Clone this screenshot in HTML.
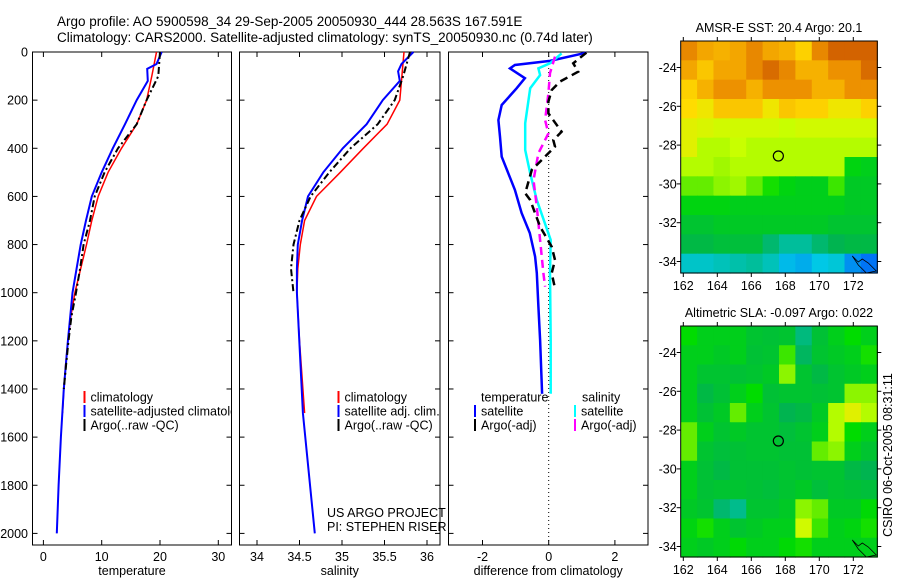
<!DOCTYPE html>
<html><head><meta charset="utf-8"><style>
html,body{margin:0;padding:0;background:#fff;}
svg{display:block;font-family:"Liberation Sans",sans-serif;}
text{font-size:12.5px;fill:#000;}
</style></head><body>
<svg id="c" width="900" height="580" viewBox="0 0 900 580" xmlns="http://www.w3.org/2000/svg">
<text x="57" y="26" style="font-size:13.5px">Argo profile: AO 5900598_34 29-Sep-2005 20050930_444 28.563S 167.591E</text>
<text x="57" y="42" style="font-size:13.5px">Climatology: CARS2000. Satellite-adjusted climatology: synTS_20050930.nc (0.74d later)</text>
<text x="892" y="455" transform="rotate(-90 892 455)" text-anchor="middle">CSIRO 06-Oct-2005 08:31:11</text>
<g id="g"></g>
</svg>
<script>
// ---------- data ----------
const depthTicks=[0,200,400,600,800,1000,1200,1400,1600,1800,2000];
const tempTicks=[0,10,20,30];
const salTicks=[34,34.5,35,35.5,36];
const diffTicks=[-2,0,2];
const tClimDepth=[0,100,200,300,400,500,600,700,800,900,1000,1100,1200,1300,1400,1500];
const tClim=[19.4,18.6,17.7,16,13.4,11.1,9.4,8.3,7.4,6.4,5.4,4.7,4.2,3.8,3.5,3.3];
const tSatDepth=[0,50,70,120,200,300,400,500,600,700,800,900,1000,1200,1400,1600,1800,2000];
const tSat=[20.3,19.4,17.8,17.9,16,14,11.9,10,8.3,7.3,6.4,5.7,5,4.2,3.5,3.0,2.6,2.3];
const tArgoDepth=[0,100,200,300,400,500,600,700,800,900,1000,1100,1200,1300,1400];
const tArgo=[20,19.7,17.7,16,12.8,10.5,8.8,8,6.9,6.3,5.6,4.8,4.3,3.9,3.5];
const sClimDepth=[0,200,300,400,500,600,700,800,900,1000,1200,1400,1500];
const sClim=[35.73,35.68,35.53,35.25,34.98,34.70,34.56,34.51,34.48,34.47,34.5,34.54,34.56];
const sSatDepth=[0,50,80,120,200,300,400,500,600,700,800,900,1000,1500,2000];
const sSat=[35.84,35.70,35.66,35.68,35.48,35.29,35.01,34.78,34.6,34.53,34.48,34.47,34.47,34.54,34.68];
const sArgoDepth=[0,100,200,300,400,500,600,700,800,900,1000];
const sArgo=[35.8,35.72,35.62,35.42,35.10,34.85,34.63,34.5,34.43,34.40,34.43];
const dTSatDepth=[3,37,54,68,109,151,220,283,352,435,504,573,669,752,850,918,1058,1196,1420];
const dTSat=[1.14,0.04,-1.02,-1.17,-0.72,-0.97,-1.42,-1.52,-1.47,-1.42,-1.22,-1.02,-0.82,-0.57,-0.41,-0.36,-0.31,-0.26,-0.2];
const dSSatDepth=[6,47,68,96,151,296,407,504,615,781,919,1196,1420];
const dSSat=[0.39,0.04,-0.31,-0.26,-0.56,-0.71,-0.71,-0.56,-0.36,0.06,0.04,0.06,0.06];
const dSArgoDepth=[19,88,172,283,338,421,532,643,781,919,975];
const dSArgo=[0.19,0.04,-0.01,-0.11,-0.01,-0.31,-0.46,-0.36,-0.26,-0.16,-0.11];
const dTArgoDepth=[3,47,82,123,158,206,255,331,366,393,421,490,587,615,726,809,864,919,982];
const dTArgo=[1.14,0.74,0.89,0.34,0.09,-0.01,-0.01,0.39,0.14,0.19,-0.01,-0.51,-0.71,-0.56,-0.26,0.09,0.19,0.09,0.19];
const lonTicks=[162,164,166,168,170,172];
const latTicks=[-24,-26,-28,-30,-32,-34];
const sstGrid=[
[8.8,8.2,8,8.2,8.8,8.2,8,7.4,8.8,9.6,9.6,9.6],
[8.2,7.6,8.2,8.2,8.8,9.4,8.8,8,8,8.6,8.6,9.4],
[7.4,8,8.6,8.6,8,8.6,8.6,8.6,8,8,8.6,8.6],
[7.2,7,7.6,7.6,7.6,7,7.6,7.4,7.4,7,7,7.4],
[6.8,6.7,6.6,6.6,6.6,6.6,6.5,6.6,6.6,6.6,6.6,6.6],
[6.8,6.4,6.4,6.5,6.4,6.4,6.4,6.4,6.4,6.4,6.4,6.4],
[6.4,6.4,6.3,6.4,6.4,6.4,6.4,6.4,6.4,6.4,5.2,5.0],
[6,6,6.2,6.3,6,5.6,5.2,5,5,5.8,4.8,4.8],
[5.2,5.2,5.2,5,5,5,5,5,5,5,4.8,4.8],
[4.6,4.6,4.8,4.8,4.8,4.8,4.8,4.8,4.8,4.6,4.6,4.6],
[4.2,4.2,4.4,4.4,4.4,3.6,3.0,3,3.6,4,4.2,4.2],
[2.4,2.4,2.6,2.8,3,2.6,1.8,1.6,2,2.2,1.2,0.8]];
const slaGrid=[
[5.5,5,5,5,4.6,4.5,4.6,3.4,4.5,5,5.5,5],
[5,5,4.8,5,4.5,4.6,5.8,3.8,4.6,4.8,5,5.6],
[5,4.6,4.6,4.5,4.6,4.8,6.2,4.6,4.2,4.6,4.8,5],
[5,4.2,4.5,5,5.5,4.5,4.6,4.6,4.5,4.6,6.2,6.2],
[5,4.5,4.8,6,5,4.6,4,4.2,4.8,6.4,6.8,6.4],
[6,5,4.6,4.8,4.6,4.6,4.4,4.6,5,6.4,5.5,5],
[6,4.6,4.4,4.5,4.6,4.6,4.5,4.5,6,6.2,5,4.6],
[5,4.5,4.2,4.5,4.5,4.5,4.6,4.5,4.6,4.6,4.2,4],
[5,4.5,4.6,4.6,4.5,4.4,4.6,4.8,4.4,4.6,4.5,4.4],
[4.8,4.6,3.6,3.2,4.6,4.6,4.8,6.2,6,4.8,4.8,5.4],
[5.2,5.6,5,4.6,4.8,5,5,6.6,5.8,5,5.2,5.6],
[5,4.8,5,5.4,5,5,5.4,5.6,5,5,5,5]];

// ---------- helpers ----------
const NS="http://www.w3.org/2000/svg";
const G=document.getElementById('g');
function mk(tag,attrs,parent){const e=document.createElementNS(NS,tag);for(const k in attrs)e.setAttribute(k,attrs[k]);(parent||G).appendChild(e);return e;}
const yD=d=>52+d*0.2407;
const TOP=52, BOT=545;
const panels=[
 {x0:32.5,x1:231.5,f:v=>43.4+v*5.83,ticks:tempTicks,title:'temperature',name:'temperature'},
 {x0:239.5,x1:440,f:v=>257+(v-34)*85,ticks:salTicks,title:'salinity',name:'salinity'},
 {x0:448.5,x1:648,f:v=>548.7+v*33.1,ticks:diffTicks,title:'difference from climatology',name:'difference'}];
panels.forEach((p,i)=>{
  const r=mk('rect',{x:p.x0,y:TOP,width:p.x1-p.x0,height:BOT-TOP,fill:'none',stroke:'#000','stroke-width':1});
  
  
  p.ticks.forEach(t=>{const x=p.f(t);
    mk('line',{x1:x,x2:x,y1:BOT,y2:BOT-5,stroke:'#000'});
    mk('line',{x1:x,x2:x,y1:TOP,y2:TOP+5,stroke:'#000'});
    const tx=mk('text',{x:x,y:BOT+16,'text-anchor':'middle'});tx.textContent=t;
    
    
  });
  depthTicks.forEach(d=>{const y=yD(d);
    mk('line',{x1:p.x0,x2:p.x0+5,y1:y,y2:y,stroke:'#000'});
    mk('line',{x1:p.x1,x2:p.x1-5,y1:y,y2:y,stroke:'#000'});
  });
  const tt=mk('text',{x:(p.x0+p.x1)/2,y:575,'text-anchor':'middle'});tt.textContent=p.title;
  
  
});
depthTicks.forEach(d=>{const t=mk('text',{x:28,y:yD(d)+4.5,'text-anchor':'end'});t.textContent=d;
  
  });
mk('line',{x1:panels[2].f(0),x2:panels[2].f(0),y1:TOP,y2:BOT,stroke:'#000','stroke-dasharray':'1,3'});
function series(p,ds,vs,color,w,dash,name){
  const pts=ds.map((d,i)=>p.f(vs[i]).toFixed(1)+','+yD(d).toFixed(1)).join(' ');
  const a={points:pts,fill:'none',stroke:color,'stroke-width':w};if(dash)a['stroke-dasharray']=dash;
  const e=mk('polyline',a);
  
  
}
series(panels[0],tClimDepth,tClim,'#f00',1.5,null,'temp-climatology-line');
series(panels[0],tSatDepth,tSat,'#00f',2,null,'temp-satellite-line');
series(panels[0],tArgoDepth,tArgo,'#000',2,'7,3,2,3','temp-argo-line');
series(panels[1],sClimDepth,sClim,'#f00',1.5,null,'sal-climatology-line');
series(panels[1],sSatDepth,sSat,'#00f',2,null,'sal-satellite-line');
series(panels[1],sArgoDepth,sArgo,'#000',2,'7,3,2,3','sal-argo-line');
series(panels[2],dTSatDepth,dTSat,'#00f',2.5,null,'diff-temp-satellite-line');
series(panels[2],dSSatDepth,dSSat,'#0ff',2.5,null,'diff-sal-satellite-line');
series(panels[2],dSArgoDepth,dSArgo,'#f0f',2.5,'8,5','diff-sal-argo-line');
series(panels[2],dTArgoDepth,dTArgo,'#000',2.5,'8,5','diff-temp-argo-line');
function leg(x,y,color,label,name){
  mk('line',{x1:x,x2:x,y1:y-6,y2:y+6,stroke:color,'stroke-width':2});
  const t=mk('text',{x:x+6,y:y+4.5});t.textContent=label;
  
  
}
mk('clipPath',{id:'cp1'});document.getElementById('cp1').appendChild(document.createElementNS(NS,'rect'));
const cr=document.querySelector('#cp1 rect');cr.setAttribute('x',32);cr.setAttribute('y',0);cr.setAttribute('width',200);cr.setAttribute('height',580);
const l1=mk('g',{'clip-path':'url(#cp1)'});
[['#f00','climatology'],['#00f','satellite-adjusted climatology'],['#000','Argo(..raw -QC)']].forEach((a,i)=>{
  mk('line',{x1:84.5,x2:84.5,y1:397+i*14-6,y2:397+i*14+6,stroke:a[0],'stroke-width':2},l1);
  const t=mk('text',{x:90.5,y:401.5+i*14},l1);t.textContent=a[1];
  
  
});
[['#f00','climatology'],['#00f','satellite adj. clim.'],['#000','Argo(..raw -QC)']].forEach((a,i)=>leg(338.5,397+i*14,a[0],a[1],'sal-legend-entry'));
const lt=mk('text',{x:481,y:401.5});lt.textContent='temperature';

const ls=mk('text',{x:582,y:401.5});ls.textContent='salinity';

leg(475,411,'#00f','satellite','diff-legend-entry');
leg(475,425,'#000','Argo(-adj)','diff-legend-entry');
leg(575,411,'#0ff','satellite','diff-legend-entry');
leg(575,425,'#f0f','Argo(-adj)','diff-legend-entry');
const u1=mk('text',{x:327,y:517});u1.textContent='US ARGO PROJECT';

const u2=mk('text',{x:327,y:531});u2.textContent='PI: STEPHEN RISER';


// ---------- maps ----------
const stops=[[0,[0,60,255]],[0.2,[0,200,230]],[0.4,[0,180,80]],[0.55,[0,220,0]],[0.65,[200,255,0]],[0.72,[255,220,0]],[0.85,[240,150,0]],[1,[200,80,0]]];
function cmap(v){const t=Math.max(0,Math.min(1,v/10));
  for(let i=1;i<stops.length;i++){if(t<=stops[i][0]){const a=stops[i-1],b=stops[i],f=(t-a[0])/(b[0]-a[0]);
    return 'rgb('+a[1].map((c,k)=>Math.round(c+(b[1][k]-c)*f)).join(',')+')';}}
  return 'rgb(200,80,0)';}
function drawMap(y0,y1,grid,title,name){
  const x0=680.7,x1=877.3;
  const lonX=l=>683.3+(l-162)*17;
  const latY=la=>(y0+26.5)+(-24-la)*19.4;
  const rows=grid.length,cols=grid[0].length,cw=(x1-x0)/cols,ch=(y1-y0)/rows;
  grid.forEach((row,r)=>row.forEach((v,c)=>{
    const e=mk('rect',{x:(x0+c*cw).toFixed(2),y:(y0+r*ch).toFixed(2),width:(cw+0.6).toFixed(2),height:(ch+0.6).toFixed(2),fill:cmap(v)});
    
    
  }));
  const fr=mk('rect',{x:x0,y:y0,width:x1-x0,height:y1-y0,fill:'none',stroke:'#000'});
  
  lonTicks.forEach(l=>{const x=lonX(l);
    mk('line',{x1:x,x2:x,y1:y1,y2:y1+4,stroke:'#000'});mk('line',{x1:x,x2:x,y1:y0,y2:y0-4,stroke:'#000'});
    const t=mk('text',{x:x,y:y1+17,'text-anchor':'middle'});t.textContent=l;
    });
  latTicks.forEach(la=>{const y=latY(la);
    mk('line',{x1:x0,x2:x0-4,y1:y,y2:y,stroke:'#000'});mk('line',{x1:x1,x2:x1+4,y1:y,y2:y,stroke:'#000'});
    const t=mk('text',{x:x0-4,y:y+4.5,'text-anchor':'end'});t.textContent=la;
    });
  const tt=mk('text',{x:(x0+x1)/2,y:y0-9,'text-anchor':'middle'});tt.textContent=title;
  
  const cx=lonX(167.591),cy=latY(-28.563);
  const m=mk('circle',{cx:cx,cy:cy,r:5,fill:'none',stroke:'#000','stroke-width':1.2});
  
  mk('path',{d:`M${x1-25} ${y1-17} l6 6 l4 -3 l6 4 l8 8 l-10 2 l-8 -8 z`,fill:'none',stroke:'#000','stroke-width':0.8});
}
drawMap(41,273,sstGrid,'AMSR-E SST: 20.4  Argo: 20.1','sst-map');
drawMap(326,557,slaGrid,'Altimetric SLA: -0.097  Argo: 0.022','sla-map');
</script>
</body></html>
